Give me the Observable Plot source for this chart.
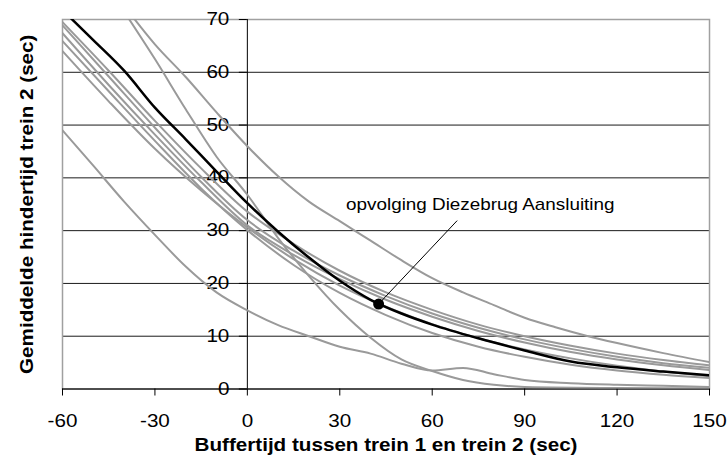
<!DOCTYPE html>
<html><head><meta charset="utf-8">
<script src="https://cdn.jsdelivr.net/npm/d3@7"></script>
<script src="https://cdn.jsdelivr.net/npm/@observablehq/plot@0.6"></script>
<style>
html,body{margin:0;padding:0;background:#fff;}
#chart{width:728px;height:461px;overflow:hidden;}
</style></head><body><div id="chart"></div>
<script>
// ---- tick labels & texts ----
const xTicks = [-60, -30, 0, 30, 60, 90, 120, 150];
const yTicks = [0, 10, 20, 30, 40, 50, 60, 70];
const xLabel = "Buffertijd tussen trein 1 en trein 2 (sec)";
const yLabel = "Gemiddelde hindertijd trein 2 (sec)";
const noteText = "opvolging Diezebrug Aansluiting";

// ---- grey bundle series (shared x) ----
const bundleX = [-60, -45, -30, -15, 0, 15, 30, 45, 60, 75, 90, 105, 120, 135, 150];
const grey1 = [69.5, 60.3, 50.8, 41.8, 33.6, 27.5, 22.4, 18.3, 15.0, 12.2, 10.0, 8.2, 6.7, 5.5, 4.5];
const grey2 = [68.9, 59.2, 49.5, 40.2, 32.0, 26.2, 21.5, 17.6, 14.3, 11.6, 9.4, 7.6, 6.1, 4.9, 4.0];
const grey3 = [67.4, 57.6, 48.2, 39.2, 31.0, 25.4, 20.8, 16.9, 13.7, 11.0, 8.8, 7.0, 5.6, 4.5, 3.6];
const grey4 = [65.9, 56.4, 47.0, 38.0, 30.1, 23.5, 18.2, 14.0, 10.6, 8.0, 6.1, 4.6, 3.5, 2.7, 2.1];
const grey5 = [64.0, 54.5, 45.5, 37.6, 30.6, 24.6, 19.6, 15.6, 12.3, 9.6, 7.5, 5.8, 4.4, 3.3, 2.4];

// steep grey series
const steepX = [-40, -30, -20, -10, 0, 10, 20, 30, 40, 50, 60, 70, 80, 90, 120, 150];
const grey6 = [71.5, 62.5, 53.0, 44.0, 36.8, 28.6, 21.4, 15.0, 9.7, 5.6, 3.4, 1.7, 0.8, 0.4, 0.2, 0.15];

// upper grey series
const upperX = [-40, -30, -20, -10, 0, 10, 20, 30, 40, 50, 60, 70, 80, 90, 100, 110, 120, 135, 150];
const grey7 = [72.6, 65.3, 59.1, 52.4, 46.0, 40.3, 35.5, 31.8, 28.1, 24.4, 21.0, 18.3, 15.9, 13.5, 11.7, 10.1, 8.7, 6.8, 5.1];

// lower grey series
const lowX = [-60, -50, -40, -30, -20, -10, 0, 10, 20, 30, 40, 50, 60, 70, 80, 90, 105, 120, 135, 150];
const grey8 = [49.0, 42.3, 35.5, 29.2, 23.2, 18.3, 14.9, 12.1, 10.0, 8.0, 6.7, 4.8, 3.5, 4.0, 2.8, 1.7, 1.1, 0.8, 0.6, 0.4];

// highlighted black series
const blackX = [-60, -50, -40, -30, -20, -10, 0, 10, 20, 30, 40, 50, 60, 75, 90, 105, 120, 135, 150];
const blackY = [71.8, 66.1, 60.3, 53.3, 47.3, 41.2, 35.2, 29.8, 24.9, 20.5, 16.9, 14.3, 12.2, 9.6, 7.3, 5.2, 4.1, 3.3, 2.6];

// annotation
const note = {x: 42.6, y: 16.1, lineX: 68.1, lineY: 31.9, labelX: 75.6, labelY: 34.9};

// ---- build table ----
const greySeries = [
  ["g1", bundleX, grey1], ["g2", bundleX, grey2], ["g3", bundleX, grey3],
  ["g4", bundleX, grey4], ["g5", bundleX, grey5], ["g6", steepX, grey6],
  ["g7", upperX, grey7], ["g8", lowX, grey8]
];
const greyRows = greySeries.flatMap(([name, xs, ys]) => xs.map((x, i) => ({name, x, y: ys[i]})));
const blackRows = blackX.map((x, i) => ({x, y: blackY[i]}));

const FONT = "'Liberation Sans', Arial, Helvetica, sans-serif";
const STRETCH = 1.18;

const chart = Plot.plot({
  width: 728, height: 461,
  marginLeft: 62, marginRight: 19, marginTop: 19, marginBottom: 72.5,
  x: {domain: [-60, 150], axis: null},
  y: {domain: [0, 70], axis: null},
  style: {fontFamily: FONT, color: "#000", background: "#fff", overflow: "visible"},
  marks: [
    Plot.ruleY(yTicks, {stroke: "#1a1a1a", strokeWidth: 1}),
    Plot.frame({stroke: "#a0a0a0", strokeWidth: 1.5}),
    Plot.ruleX([0], {stroke: "#000", strokeWidth: 1}),
    Plot.ruleY(yTicks, {x1: 0, x2: 0, insetLeft: -8, stroke: "#000", strokeWidth: 1}),
    Plot.ruleY([0], {stroke: "#000", strokeWidth: 1}),
    Plot.ruleX(xTicks, {y1: 0, y2: 0, insetBottom: -7, stroke: "#000", strokeWidth: 1}),
    Plot.text(yTicks, {x: 0, y: d => d, dx: -18, textAnchor: "end", lineAnchor: "middle", fontSize: 17.5, fill: "#000"}),
    Plot.text(xTicks, {x: d => d, y: 0, dy: 32.5, textAnchor: "middle", lineAnchor: "middle", fontSize: 17.5, fill: "#000"}),
    Plot.text([xLabel], {frameAnchor: "bottom", dy: 56, textAnchor: "middle", lineAnchor: "middle", fontSize: 17.5, fontWeight: "bold", fill: "#000"}),
    Plot.text([yLabel], {frameAnchor: "left", dx: -35, rotate: -90, textAnchor: "middle", lineAnchor: "middle", fontSize: 17.5, fontWeight: "bold", fill: "#000"}),
    Plot.line(greyRows, {x: "x", y: "y", z: "name", stroke: "#9a9a9a", strokeWidth: 2, curve: "monotone-x", clip: true}),
    Plot.line(blackRows, {x: "x", y: "y", stroke: "#000", strokeWidth: 2.5, curve: "monotone-x", clip: true}),
    Plot.link([note], {x1: "x", y1: "y", x2: "lineX", y2: "lineY", stroke: "#000", strokeWidth: 1}),
    Plot.dot([note], {x: "x", y: "y", r: 5.5, fill: "#000", stroke: "none"}),
    Plot.text([note], {x: "labelX", y: "labelY", text: () => noteText, textAnchor: "middle", lineAnchor: "middle", fontSize: 16, fill: "#000"})
  ]
});

// widen glyphs along the text direction to match the reference's wide typeface
chart.querySelectorAll("text").forEach(t => {
  const tr = t.getAttribute("transform");
  if (tr) {
    t.setAttribute("transform", tr + ` scale(${STRETCH},1)`);
  } else {
    const x = parseFloat(t.getAttribute("x")) || 0;
    const y = parseFloat(t.getAttribute("y")) || 0;
    t.removeAttribute("x"); t.removeAttribute("y");
    t.setAttribute("transform", `translate(${x},${y}) scale(${STRETCH},1)`);
  }
});

document.getElementById("chart").appendChild(chart);
</script>
</body></html>
